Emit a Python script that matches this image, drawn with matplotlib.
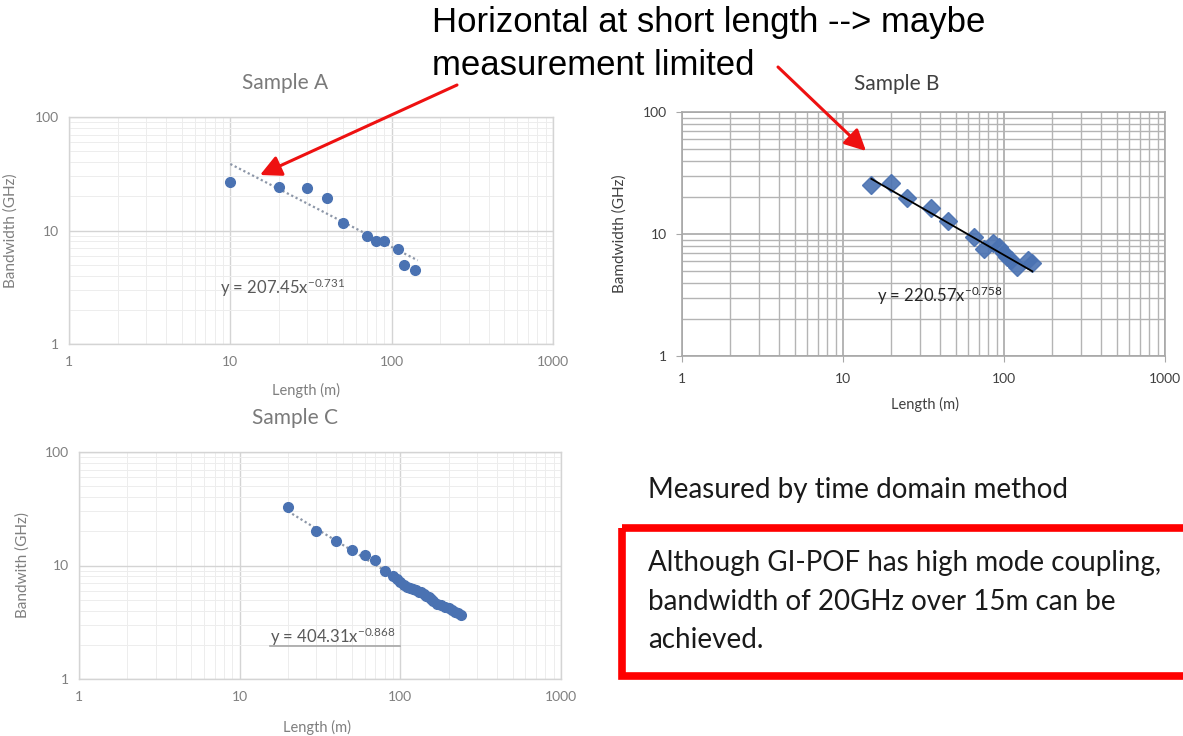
import numpy as np
import matplotlib
matplotlib.use("Agg")
import matplotlib.pyplot as plt
from matplotlib.patches import Rectangle
from matplotlib.ticker import FixedLocator, FixedFormatter, LogLocator, NullFormatter

plt.rcParams['font.family'] = ['Lato', 'DejaVu Sans']
plt.rcParams['mathtext.default'] = 'regular'

# data
len_a = [10, 20, 30, 40, 50, 70, 80, 90, 110, 120, 140]
bw_a = [26.9, 24, 23.5, 19.2, 11.7, 9.0, 8.1, 8.1, 6.9, 5.0, 4.5]

len_b = [15, 20, 25, 35, 45, 65, 75, 85, 93, 100, 105, 110, 120, 140, 150]
bw_b = [25.2, 26, 19.6, 16.2, 12.9, 9.5, 7.5, 8.5, 7.8, 7.0, 6.5, 6.1, 5.4, 6.1, 5.75]

len_c = [20, 30, 40, 50, 60, 70, 80, 90, 95, 100, 105, 110, 115, 120, 125, 130,
         135, 140, 145, 150, 155, 160, 170, 180, 190, 200, 210, 220, 230, 240]
bw_c = [32.5, 20.3, 16.4, 13.7, 12.5, 11.1, 9.0, 8.0, 7.6, 7.2, 6.8, 6.5, 6.3, 6.2,
        6.1, 5.9, 5.8, 5.6, 5.4, 5.3, 5.1, 4.9, 4.6, 4.5, 4.35, 4.2, 4.05, 3.9, 3.8, 3.65]

# power-law trendlines as printed on the charts (coef, exponent, x range)
fit_a = (207.45, -0.731, 10, 145)
fit_b = (220.57, -0.758, 15, 150)
fit_c = (404.31, -0.868, 20, 240)

ticks_x = [1, 10, 100, 1000]
ticks_y = [1, 10, 100]

W, H = 1183, 736
fig = plt.figure(figsize=(W / 100, H / 100), dpi=100)
fig.patch.set_facecolor('white')

def px_axes(l, t, r, b):
    return fig.add_axes([l / W, 1 - b / H, (r - l) / W, (b - t) / H])

def setup(ax, major_c, minor_c, major_lw, minor_lw, txt_c, tick_len):
    ax.set_xscale('log')
    ax.set_yscale('log')
    ax.set_xlim(1, 1000)
    ax.set_ylim(1, 100)
    ax.xaxis.set_major_locator(FixedLocator(ticks_x))
    ax.xaxis.set_major_formatter(FixedFormatter([str(t) for t in ticks_x]))
    ax.yaxis.set_major_locator(FixedLocator(ticks_y))
    ax.yaxis.set_major_formatter(FixedFormatter([str(t) for t in ticks_y]))
    for a in (ax.xaxis, ax.yaxis):
        a.set_minor_locator(LogLocator(base=10, subs=np.arange(2, 10)))
        a.set_minor_formatter(NullFormatter())
    ax.grid(True, which='major', color=major_c, lw=major_lw)
    ax.grid(True, which='minor', color=minor_c, lw=minor_lw)
    ax.set_axisbelow(True)
    ax.tick_params(which='minor', length=0)
    ax.tick_params(which='major', length=tick_len, color=major_c, labelsize=10,
                   labelcolor=txt_c)
    ax.tick_params(axis='x', pad=8.5)
    ax.tick_params(axis='y', pad=7)
    for s in ax.spines.values():
        s.set_color(major_c)
        s.set_linewidth(major_lw)

def trend(ax, fit, **kw):
    c, e, x0, x1 = fit
    xs = np.array([x0, x1], dtype=float)
    ax.plot(xs, c * xs ** e, **kw)

gray = '#7f7f7f'
blue = '#4a72b2'

# Sample A
ax_a = px_axes(69, 117, 553, 344)
setup(ax_a, '#d4d4d4', '#ededed', 1.0, 0.7, gray, 0)
trend(ax_a, fit_a, color='#8d97a8', ls=(0, (1, 1.2)), lw=1.6, zorder=2)
ax_a.plot(len_a, bw_a, 'o', color=blue, ms=7, zorder=3)
ax_a.text(8.6, 3.1, r'y = 207.45x$^{-0.731}$', fontsize=12, color='#595959', va='center')
ax_a.set_xlabel('Length (m)', fontsize=10.5, color=gray)
ax_a.set_ylabel('Bandwidth (GHz)', fontsize=11, color=gray)
ax_a.xaxis.set_label_coords(0.49, -0.172)
ax_a.yaxis.set_label_coords(-0.105, 0.5)
ax_a.text(0.446, 1.15, 'Sample A', transform=ax_a.transAxes, ha='center', va='center',
          fontsize=15, color='#7a7a7a')

# Sample B
ax_b = px_axes(682, 112, 1165, 356)
setup(ax_b, '#a8a8a8', '#b4b4b4', 1.2, 1.0, '#404040', 4)
ax_b.plot(len_b, bw_b, 'D', color=blue, ms=9, alpha=0.9, zorder=3)
trend(ax_b, fit_b, color='black', lw=1.3, zorder=4)
ax_b.text(16.3, 3.1, r'y = 220.57x$^{-0.758}$', fontsize=12, color='#262626', va='center')
ax_b.set_xlabel('Length (m)', fontsize=10.5, color='#404040')
ax_b.set_ylabel('Bamdwidth (GHz)', fontsize=11, color='#404040')
ax_b.xaxis.set_label_coords(0.503, -0.168)
ax_b.yaxis.set_label_coords(-0.114, 0.5)
ax_b.text(0.445, 1.115, 'Sample B', transform=ax_b.transAxes, ha='center', va='center',
          fontsize=15, color='#404040')

# Sample C
ax_c = px_axes(79, 452, 561, 679)
setup(ax_c, '#d4d4d4', '#ededed', 1.0, 0.7, gray, 0)
trend(ax_c, fit_c, color='#8d97a8', ls=(0, (1, 1.2)), lw=1.6, zorder=2)
ax_c.plot(len_c, bw_c, 'o', color=blue, ms=7, zorder=3)
ax_c.text(15.4, 2.35, r'y = 404.31x$^{-0.868}$', fontsize=12, color='#595959', va='center')
ax_c.plot([15.4, 100], [1.95, 1.95], color='#a6a6a6', lw=1.2)
ax_c.set_xlabel('Length (m)', fontsize=10.5, color=gray)
ax_c.set_ylabel('Bandwith (GHz)', fontsize=11, color=gray)
ax_c.xaxis.set_label_coords(0.494, -0.18)
ax_c.yaxis.set_label_coords(-0.102, 0.5)
ax_c.text(0.448, 1.15, 'Sample C', transform=ax_c.transAxes, ha='center', va='center',
          fontsize=15, color='#7a7a7a')

# overlay in slide pixels for callouts, drawn on top of the charts
ov = fig.add_axes([0, 0, 1, 1], zorder=10)
ov.set_xlim(0, W)
ov.set_ylim(H, 0)
ov.axis('off')
ov.patch.set_alpha(0)

ov.text(432, 32, 'Horizontal at short length --> maybe', fontsize=25,
        family='Liberation Sans', va='baseline', color='black')
ov.text(432, 75, 'measurement limited', fontsize=25,
        family='Liberation Sans', va='baseline', color='black')

arrow_kw = dict(arrowstyle='-|>', color='#ee1111', lw=2.2, mutation_scale=32,
                shrinkA=0, shrinkB=0)
ov.annotate('', xy=(260, 175), xytext=(457, 85), arrowprops=arrow_kw)
ov.annotate('', xy=(866, 151), xytext=(778, 67), arrowprops=arrow_kw)

ov.text(648, 490, 'Measured by time domain method', fontsize=20, va='center', color='#1a1a1a')
ov.add_patch(Rectangle((622, 528), 600, 148, fill=False, ec='#ff0000', lw=5.5, clip_on=False))
box_lines = ['Although GI-POF has high mode coupling,',
             'bandwidth of 20GHz over 15m can be',
             'achieved.']
for i, line in enumerate(box_lines):
    ov.text(648, 563 + 38.5 * i, line, fontsize=20, va='center', color='#1a1a1a')

fig.savefig('out.png', dpi=100)
